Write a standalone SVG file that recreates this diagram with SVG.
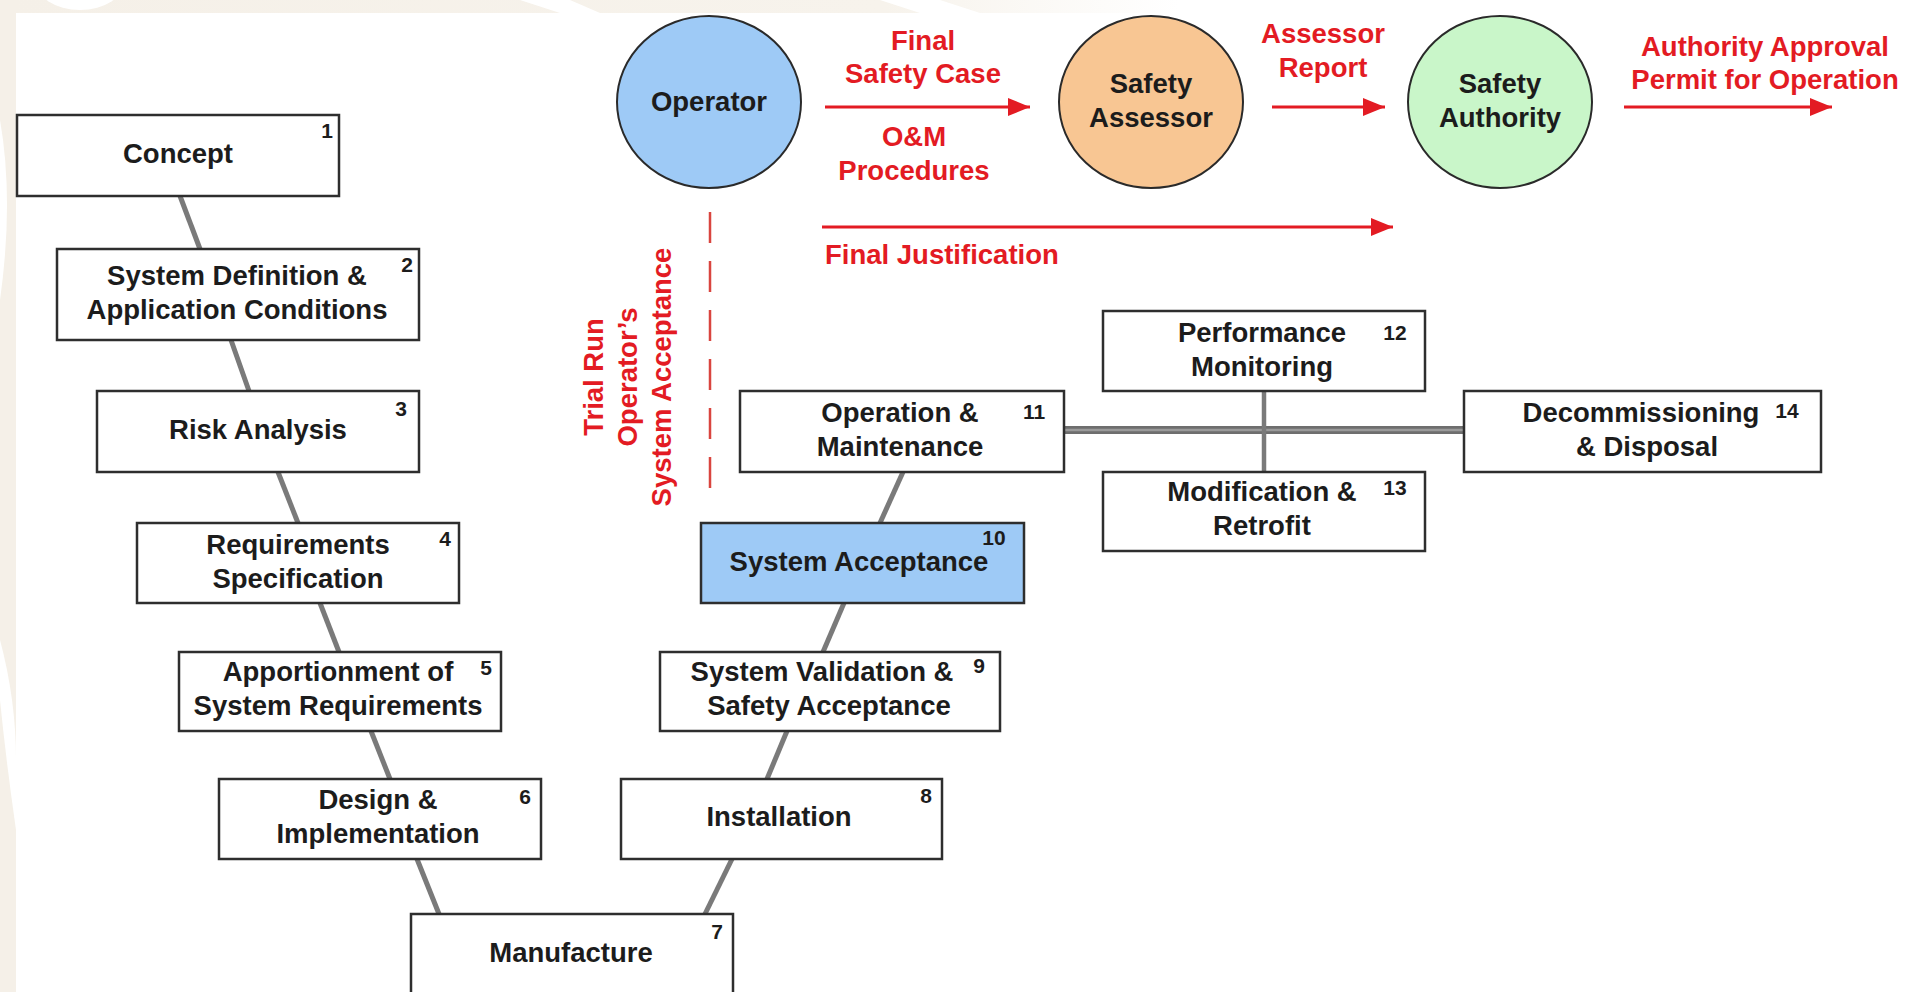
<svg xmlns="http://www.w3.org/2000/svg" width="1906" height="992" viewBox="0 0 1906 992">
  <defs>
    <marker id="redHead" viewBox="0 0 22 18" refX="22" refY="9" markerWidth="22" markerHeight="18" markerUnits="userSpaceOnUse" orient="auto">
      <path d="M0,0 L22,9 L0,18 Z" fill="#e31b23"/>
    </marker>
    <linearGradient id="topFade" x1="0" y1="0" x2="1" y2="0">
      <stop offset="0" stop-color="#f5f0e8"/>
      <stop offset="0.75" stop-color="#f7f3ec"/>
      <stop offset="1" stop-color="#ffffff"/>
    </linearGradient>
  </defs>
  <style>
    .box { fill: #ffffff; stroke: #2e2e2e; stroke-width: 2.5; }
    .box.hi { fill: #9ecaf6; }
    .lbl { font-family: "Liberation Sans", Arial, sans-serif; font-weight: bold; font-size: 27.5px; fill: #1c1c1c; text-anchor: middle; }
    .num { font-family: "Liberation Sans", Arial, sans-serif; font-weight: bold; font-size: 21px; fill: #1c1c1c; text-anchor: middle; }
    .red { font-family: "Liberation Sans", Arial, sans-serif; font-weight: bold; font-size: 27.5px; fill: #e31b23; text-anchor: middle; }
    .flow { stroke: #e31b23; stroke-width: 3; fill: none; marker-end: url(#redHead); }
    .link { stroke: #7a7a7a; stroke-width: 5; fill: none; }
    .actor { stroke: #2a2a2a; stroke-width: 2; }
  </style>

  <!-- page background with faint decorative border -->
  <rect x="0" y="0" width="1906" height="992" fill="#ffffff"/>
  <g id="decor">
    <rect x="0" y="0" width="1180" height="13" fill="url(#topFade)"/>
    <rect x="0" y="0" width="16" height="992" fill="#f5f0e8"/>
    <ellipse cx="80" cy="-20" rx="45" ry="30" fill="#ffffff"/>
    <path d="M520,0 L560,13 L600,13 L570,0 Z" fill="#ffffff"/>
    <path d="M880,0 L920,13 L980,13 L940,0 Z" fill="#ffffff"/>
    <path d="M0,120 Q14,200 0,300 Z" fill="#ffffff"/>
    <path d="M0,640 Q16,700 16,760 L16,830 Q6,760 0,700 Z" fill="#ffffff"/>
  </g>

  <!-- connectors -->
  <g id="connectors">
    <line class="link" x1="180" y1="196" x2="200" y2="249"/>
    <line class="link" x1="231" y1="340" x2="249" y2="391"/>
    <line class="link" x1="278" y1="472" x2="298" y2="523"/>
    <line class="link" x1="320" y1="603" x2="339" y2="652"/>
    <line class="link" x1="371" y1="731" x2="390" y2="779"/>
    <line class="link" x1="417" y1="859" x2="439" y2="914"/>
    <line class="link" x1="705" y1="914" x2="732" y2="859"/>
    <line class="link" x1="767" y1="779" x2="787" y2="731"/>
    <line class="link" x1="823" y1="652" x2="844" y2="603"/>
    <line class="link" x1="880" y1="523" x2="903" y2="472"/>
    <line x1="1064" y1="430" x2="1464" y2="430" stroke="#6e6e6e" stroke-width="8"/>
    <line x1="1064" y1="430" x2="1464" y2="430" stroke="#9a9a9a" stroke-width="2.5"/>
    <line class="link" x1="1264" y1="391" x2="1264" y2="472" style="stroke-width:4.5"/>

    <line class="flow" x1="825" y1="107" x2="1030" y2="107"/>
    <line class="flow" x1="1272" y1="107" x2="1385" y2="107"/>
    <line class="flow" x1="1624" y1="107" x2="1832" y2="107"/>
    <line class="flow" x1="822" y1="227" x2="1393" y2="227"/>
    <line x1="710" y1="212" x2="710" y2="494" stroke="#d9453f" stroke-width="2.5" stroke-dasharray="31 18"/>
  </g>

  <!-- flow labels -->
  <g id="flow-labels">
    <text class="red" x="923" y="50">Final</text>
    <text class="red" x="923" y="83">Safety Case</text>
    <text class="red" x="914" y="146">O&amp;M</text>
    <text class="red" x="914" y="180">Procedures</text>
    <text class="red" x="1323" y="43">Assessor</text>
    <text class="red" x="1323" y="77">Report</text>
    <text class="red" x="1765" y="56">Authority Approval</text>
    <text class="red" x="1765" y="89">Permit for Operation</text>
    <text class="red" x="825" y="264" style="text-anchor:start">Final Justification</text>
    <text class="red" transform="translate(603,377) rotate(-90)">Trial Run</text>
    <text class="red" transform="translate(637,377) rotate(-90)">Operator’s</text>
    <text class="red" transform="translate(671,377) rotate(-90)">System Acceptance</text>
  </g>

  <!-- actors -->
  <g id="operator">
    <ellipse class="actor" cx="709" cy="102" rx="92" ry="86" fill="#9ecaf6"/>
    <text class="lbl" x="709" y="111">Operator</text>
  </g>
  <g id="safety-assessor">
    <ellipse class="actor" cx="1151" cy="102" rx="92" ry="86" fill="#f8c693"/>
    <text class="lbl" x="1151" y="93">Safety</text>
    <text class="lbl" x="1151" y="127">Assessor</text>
  </g>
  <g id="safety-authority">
    <ellipse class="actor" cx="1500" cy="102" rx="92" ry="86" fill="#c9f6c9"/>
    <text class="lbl" x="1500" y="93">Safety</text>
    <text class="lbl" x="1500" y="127">Authority</text>
  </g>

  <!-- lifecycle phases -->
  <g id="phase-1">
    <rect class="box" x="17" y="115" width="322" height="81"/>
    <text class="lbl" x="178" y="163">Concept</text>
    <text class="num" x="327" y="138">1</text>
  </g>
  <g id="phase-2">
    <rect class="box" x="57" y="249" width="362" height="91"/>
    <text class="lbl" x="237" y="285">System Definition &amp;</text>
    <text class="lbl" x="237" y="319">Application Conditions</text>
    <text class="num" x="407" y="272">2</text>
  </g>
  <g id="phase-3">
    <rect class="box" x="97" y="391" width="322" height="81"/>
    <text class="lbl" x="258" y="439">Risk Analysis</text>
    <text class="num" x="401" y="416">3</text>
  </g>
  <g id="phase-4">
    <rect class="box" x="137" y="523" width="322" height="80"/>
    <text class="lbl" x="298" y="554">Requirements</text>
    <text class="lbl" x="298" y="588">Specification</text>
    <text class="num" x="445" y="546">4</text>
  </g>
  <g id="phase-5">
    <rect class="box" x="179" y="652" width="322" height="79"/>
    <text class="lbl" x="338" y="681">Apportionment of</text>
    <text class="lbl" x="338" y="715">System Requirements</text>
    <text class="num" x="486" y="675">5</text>
  </g>
  <g id="phase-6">
    <rect class="box" x="219" y="779" width="322" height="80"/>
    <text class="lbl" x="378" y="809">Design &amp;</text>
    <text class="lbl" x="378" y="843">Implementation</text>
    <text class="num" x="525" y="804">6</text>
  </g>
  <g id="phase-7">
    <rect class="box" x="411" y="914" width="322" height="100"/>
    <text class="lbl" x="571" y="962">Manufacture</text>
    <text class="num" x="717" y="939">7</text>
  </g>
  <g id="phase-8">
    <rect class="box" x="621" y="779" width="321" height="80"/>
    <text class="lbl" x="779" y="826">Installation</text>
    <text class="num" x="926" y="803">8</text>
  </g>
  <g id="phase-9">
    <rect class="box" x="660" y="652" width="340" height="79"/>
    <text class="lbl" x="822" y="681">System Validation &amp;</text>
    <text class="lbl" x="829" y="715">Safety Acceptance</text>
    <text class="num" x="979" y="673">9</text>
  </g>
  <g id="phase-10">
    <rect class="box hi" x="701" y="523" width="323" height="80"/>
    <text class="lbl" x="859" y="571">System Acceptance</text>
    <text class="num" x="994" y="545">10</text>
  </g>
  <g id="phase-11">
    <rect class="box" x="740" y="391" width="324" height="81"/>
    <text class="lbl" x="900" y="422">Operation &amp;</text>
    <text class="lbl" x="900" y="456">Maintenance</text>
    <text class="num" x="1034" y="419">11</text>
  </g>
  <g id="phase-12">
    <rect class="box" x="1103" y="311" width="322" height="80"/>
    <text class="lbl" x="1262" y="342">Performance</text>
    <text class="lbl" x="1262" y="376">Monitoring</text>
    <text class="num" x="1395" y="340">12</text>
  </g>
  <g id="phase-13">
    <rect class="box" x="1103" y="472" width="322" height="79"/>
    <text class="lbl" x="1262" y="501">Modification &amp;</text>
    <text class="lbl" x="1262" y="535">Retrofit</text>
    <text class="num" x="1395" y="495">13</text>
  </g>
  <g id="phase-14">
    <rect class="box" x="1464" y="391" width="357" height="81"/>
    <text class="lbl" x="1641" y="422">Decommissioning</text>
    <text class="lbl" x="1647" y="456">&amp; Disposal</text>
    <text class="num" x="1787" y="418">14</text>
  </g>
</svg>
